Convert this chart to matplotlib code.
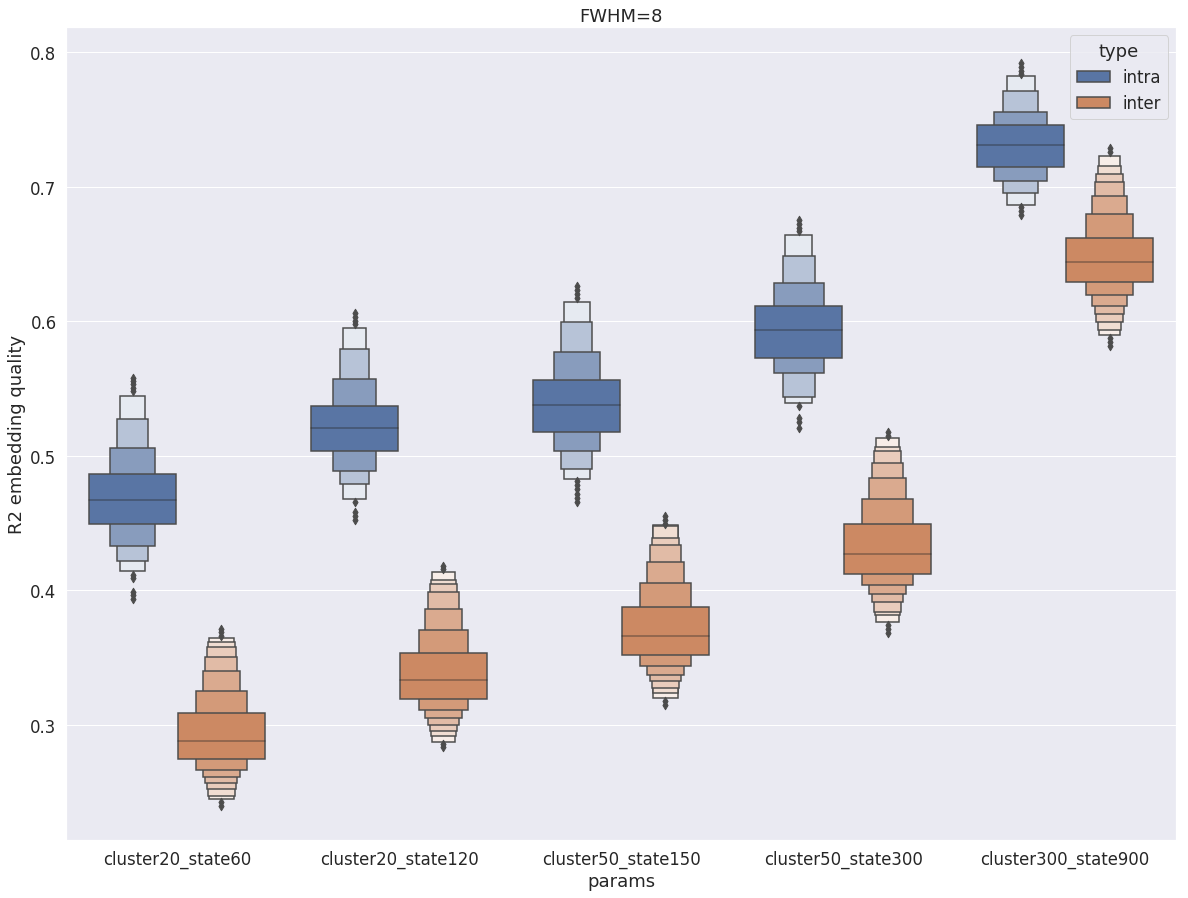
import numpy as np
import matplotlib
matplotlib.use("Agg")
import matplotlib.pyplot as plt
import matplotlib.colors as mcolors
from matplotlib.patches import Patch
import seaborn as sns

params = ["cluster20_state60", "cluster20_state120", "cluster50_state150",
          "cluster50_state300", "cluster300_state900"]
types = ["intra", "inter"]

# letter values, innermost (quartiles) first
intra_median = [0.4672, 0.5209, 0.5377, 0.5935, 0.7309]
intra_upper = [
    [0.4865, 0.5060, 0.5273, 0.5447],
    [0.5370, 0.5571, 0.5793, 0.5952],
    [0.5565, 0.5773, 0.5996, 0.6145],
    [0.6113, 0.6286, 0.6487, 0.6643],
    [0.7458, 0.7556, 0.7712, 0.7819],
]
intra_lower = [
    [0.4493, 0.4332, 0.4220, 0.4144],
    [0.5036, 0.4887, 0.4790, 0.4679],
    [0.5177, 0.5036, 0.4902, 0.4828],
    [0.5727, 0.5615, 0.5437, 0.5392],
    [0.7148, 0.7042, 0.6952, 0.6863],
]
intra_outliers = [
    [0.558, 0.5555, 0.553, 0.5505, 0.548, 0.4115, 0.409, 0.399, 0.3965, 0.394],
    [0.606, 0.603, 0.6005, 0.598, 0.4655, 0.458, 0.455, 0.452],
    [0.626, 0.623, 0.620, 0.617, 0.481, 0.478, 0.475, 0.472, 0.469, 0.466],
    [0.675, 0.672, 0.669, 0.667, 0.537, 0.528, 0.525, 0.521],
    [0.792, 0.789, 0.786, 0.784, 0.685, 0.682, 0.679],
]

inter_median = [0.2883, 0.3337, 0.3663, 0.4273, 0.6442]
inter_upper = [
    [0.3091, 0.3253, 0.3401, 0.3507, 0.3577, 0.3619, 0.3649],
    [0.3535, 0.3708, 0.3864, 0.3986, 0.4045, 0.4077, 0.4139],
    [0.3877, 0.4055, 0.4209, 0.4340, 0.4392, 0.4476, 0.4486],
    [0.4496, 0.4681, 0.4837, 0.4944, 0.5033, 0.5068, 0.5130],
    [0.6618, 0.6796, 0.6932, 0.7032, 0.7091, 0.7151, 0.7225],
]
inter_lower = [
    [0.2747, 0.2663, 0.2611, 0.2571, 0.2527, 0.2475, 0.2450],
    [0.3193, 0.3109, 0.3052, 0.3002, 0.2958, 0.2921, 0.2876],
    [0.3520, 0.3438, 0.3369, 0.3327, 0.3277, 0.3238, 0.3200],
    [0.4122, 0.4042, 0.3976, 0.3916, 0.3842, 0.3815, 0.3765],
    [0.6289, 0.6197, 0.6111, 0.6053, 0.5992, 0.5937, 0.5897],
]
inter_outliers = [
    [0.3715, 0.369, 0.3665, 0.2425, 0.240],
    [0.418, 0.416, 0.2858, 0.2835],
    [0.455, 0.452, 0.4495, 0.3178, 0.315],
    [0.5175, 0.5148, 0.374, 0.3715, 0.3685],
    [0.7285, 0.7255, 0.5875, 0.5845, 0.5816],
]

sns.set(font_scale=1.5)
plt.rcParams['font.family'] = ['DejaVu Sans']

base = [sns.desaturate(c, 0.75) for c in sns.color_palette("deep")[:2]]
gray = "#4c4c4c"

fig = plt.figure(figsize=(16.5, 12.486), dpi=72)
ax = fig.add_axes([0.0556, 0.0645, 0.9344, 0.9044])


def draw_boxen(ax, x, med, upper, lower, outl, color, w):
    light = np.array(mcolors.to_rgb(color)) * 0.15 + 0.85
    n = len(upper)
    heights = np.array(upper) - np.array(lower)
    widths = 1 / heights
    widths = widths / widths.max() * w
    ts = np.linspace(1, 0, n)
    # outermost box first, inner ones drawn on top
    for j in range(n - 1, -1, -1):
        t = ts[n - 1 - j]
        fc = np.array(mcolors.to_rgb(color)) * (1 - t) + light * t
        ax.bar(x, heights[j], bottom=lower[j], width=widths[j], color=fc,
               edgecolor=gray, linewidth=1.5, zorder=2)
    ax.plot([x - w / 2, x + w / 2], [med, med], c=".15", alpha=.45, lw=1.5, zorder=3)
    ax.scatter(np.repeat(x, len(outl)), outl, marker="d", c=gray, s=36, zorder=3)


w = 0.8 / 2 * 0.98
for i in range(len(params)):
    draw_boxen(ax, i - 0.2, intra_median[i], intra_upper[i], intra_lower[i],
               intra_outliers[i], base[0], w)
    draw_boxen(ax, i + 0.2, inter_median[i], inter_upper[i], inter_lower[i],
               inter_outliers[i], base[1], w)

ax.set_xlim(-0.5, len(params) - 0.5)
ax.set_ylim(0.2146, 0.8186)
ax.set_xticks(range(len(params)))
ax.set_xticklabels(params)
ax.set_yticks([0.3, 0.4, 0.5, 0.6, 0.7, 0.8])
ax.xaxis.grid(False)
ax.set_xlabel("params")
ax.set_ylabel("R2 embedding quality")
ax.set_title("FWHM=8")

handles = [Patch(facecolor=base[k], edgecolor=gray, linewidth=1.5, label=types[k])
           for k in range(2)]
ax.legend(handles=handles, title="type", loc="upper right")

fig.savefig("out.png", dpi=72)
